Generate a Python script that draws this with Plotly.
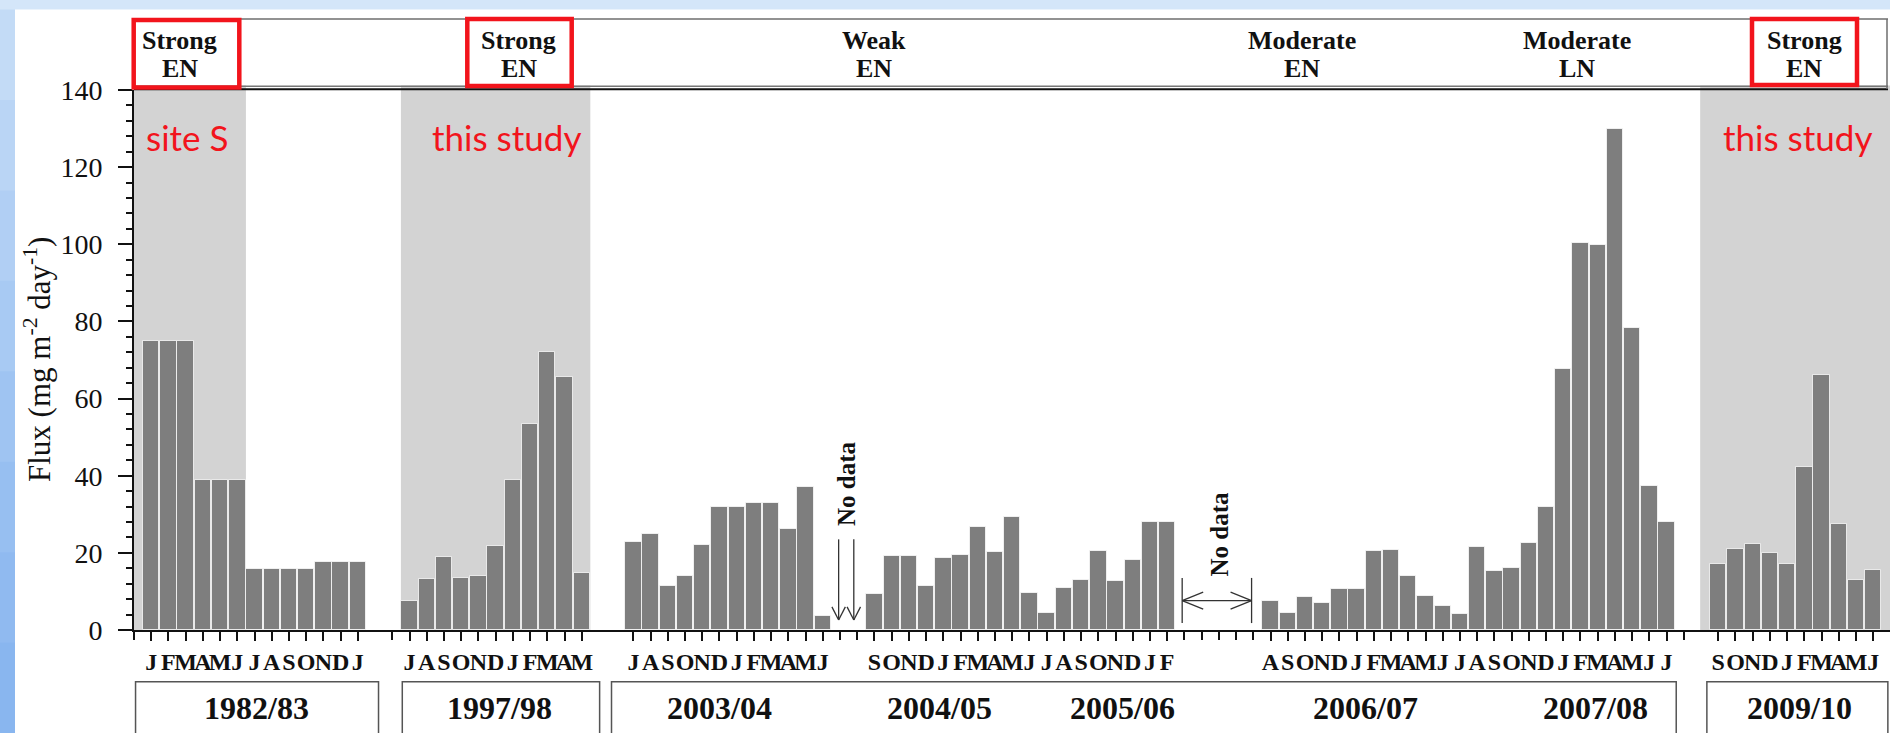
import plotly.graph_objects as go

# ---------------------------------------------------------------- data ----
MONTH_INITIALS = ["J", "F", "M", "A", "M", "J", "J", "A", "S", "O", "N", "D"]

# monthly flux (mg m-2 day-1); None marks a month without data
flux_1982_83_start = (1982, 1)
flux_1982_83 = [75.0, 75.0, 75.0, 38.9, 38.9, 38.9, 15.8, 15.8, 15.8, 15.8,
                17.6, 17.6, 17.6]

flux_1997_98_start = (1997, 7)
flux_1997_98 = [7.4, 13.2, 19.0, 13.6, 13.9, 21.7, 38.9, 53.4, 72.2, 65.7, 14.9]

flux_2003_08_start = (2003, 7)
flux_2003_08 = [22.9, 24.9, 11.4, 14.0, 22.0, 31.9, 32.0, 33.0, 33.0, 26.1,
                37.1, 3.7,
                None, None,
                9.4, 19.1, 19.1, 11.3, 18.6, 19.5, 26.7, 20.3, 29.3, 9.7,
                4.3, 11.0, 13.0, 20.5, 12.8, 18.1, 28.1, 28.1,
                None, None, None, None, None,
                7.4, 4.5, 8.5, 7.0, 10.6, 10.6, 20.5, 20.7, 14.0, 8.9, 6.3,
                4.2, 21.4, 15.3, 16.0, 22.6, 31.9, 67.7, 100.3, 99.7, 130.0,
                78.4, 37.4, 27.9]

flux_2009_10_start = (2009, 9)
flux_2009_10 = [17.2, 21.0, 22.3, 19.9, 17.1, 42.2, 66.0, 27.5, 12.9, 15.6]

year_labels = ["1982/83", "1997/98", "2003/04", "2004/05", "2005/06",
               "2006/07", "2007/08", "2009/10"]
enso_strength = ["Strong", "Strong", "Weak", "Moderate", "Moderate", "Strong"]
enso_phase = ["EN", "EN", "EN", "EN", "LN", "EN"]
study_labels = ["site S", "this study", "this study"]

# -------------------------------------------------------------- layout ----
W, H = 1890, 733
M_L, M_T, M_B = 134, 90, 103
PLOT_W = W - M_L
PLOT_H = H - M_T - M_B
SLOT_PX = 17.22
X_MIN = -1.0
X_MAX = X_MIN + PLOT_W / SLOT_PX
Y_MAX = 140

# first slot of each record on the month axis
segments = [
    (flux_1982_83_start, flux_1982_83, 0),
    (flux_1997_98_start, flux_1997_98, 15),
    (flux_2003_08_start, flux_2003_08, 28),
    (flux_2009_10_start, flux_2009_10, 91),
]
BREAK_TICKS = [-1, 14, 89]

YEAR_LABEL_SLOT = [6.1, 20.2, 33.0, 45.76, 56.4, 70.5, 83.9, 95.7]
YEAR_BOX_SLOTS = [(-0.91, 13.2), (14.58, 26.04), (26.73, 88.56), (90.34, 100.85)]
ENSO_SLOT = [1.65, 21.33, 42.0, 66.8, 82.8, 96.0]
RED_BOXES_PX = [(133.7, 239.3, 20, 87.5), (467.3, 571.7, 19, 86),
                (1752, 1857, 19, 85)]
SHADE_SLOTS = [(-1.0, 5.5), (14.5, 25.5), (89.95, 101.5)]
STUDY_SLOT = [2.05, 20.63, 95.6]

BAR = "#7e7e7e"
SHADE = "#d3d3d3"
RED = "#f2141c"
INK = "#111111"
SERIF = "Liberation Serif"


def px_x(x):
    return (x - M_L) / PLOT_W


def px_y(y):
    return (H - M_B - y) / PLOT_H


def slot_x(s):
    return (s - X_MIN) / (X_MAX - X_MIN)


fig = go.Figure()

label_vals, label_text, bare_ticks = [], [], list(BREAK_TICKS)
for (year, month), values, slot0 in segments:
    xs, ys = [], []
    for k, v in enumerate(values):
        s = slot0 + k
        if v is None:
            bare_ticks.append(s)
        else:
            label_vals.append(s)
            label_text.append("<b>%s</b>" % MONTH_INITIALS[(month - 1 + k) % 12])
            xs.append(s)
            ys.append(v)
    fig.add_trace(go.Bar(
        x=xs, y=ys, width=0.95,
        marker=dict(color=BAR, line=dict(color="rgba(255,255,255,0.75)", width=1)),
        hoverinfo="x+y", showlegend=False,
    ))

# companion axis carrying the unlabelled ticks (gaps and segment starts)
fig.add_trace(go.Scatter(x=[None], y=[None], xaxis="x2", yaxis="y",
                         mode="markers", showlegend=False, hoverinfo="skip"))

shapes = []
annotations = []

# slide background: white panel, blue band on the left
shapes.append(dict(type="rect", xref="paper", yref="paper",
                   x0=px_x(15), x1=px_x(W + 5), y0=px_y(9.5), y1=px_y(H + 5),
                   fillcolor="white", line=dict(width=0), layer="below"))
band_cols = ["#c3dbf6", "#bad5f5", "#b1cff4", "#a8caf3", "#9fc4f2",
             "#97bff1", "#90baf0", "#89b6ef"]
n = len(band_cols)
for i, c in enumerate(band_cols):
    shapes.append(dict(type="rect", xref="paper", yref="paper",
                       x0=px_x(0), x1=px_x(15),
                       y0=px_y(9.5 + (H - 9.5) * (i + 1) / n + 1),
                       y1=px_y(9.5 + (H - 9.5) * i / n),
                       fillcolor=c, line=dict(width=0), layer="below"))

# shaded strong El Nino periods
for a, b in SHADE_SLOTS:
    shapes.append(dict(type="rect", xref="x", yref="paper", x0=a, x1=b,
                       y0=0, y1=px_y(85.5), fillcolor=SHADE,
                       line=dict(width=0), layer="below"))

# ENSO header band
shapes.append(dict(type="line", xref="paper", yref="paper",
                   x0=px_x(134), x1=px_x(1888), y0=px_y(19), y1=px_y(19),
                   line=dict(color="#6e6e6e", width=1.5)))
shapes.append(dict(type="line", xref="paper", yref="paper",
                   x0=px_x(134), x1=px_x(1888), y0=px_y(86.3), y1=px_y(86.3),
                   line=dict(color="#777777", width=1.5)))
shapes.append(dict(type="line", xref="paper", yref="paper",
                   x0=px_x(134), x1=px_x(1888), y0=px_y(89.3), y1=px_y(89.3),
                   line=dict(color=INK, width=2)))
shapes.append(dict(type="line", xref="paper", yref="paper",
                   x0=px_x(1887), x1=px_x(1887), y0=px_y(19), y1=px_y(89),
                   line=dict(color="#6e6e6e", width=1.5)))
for s, strength, phase in zip(ENSO_SLOT, enso_strength, enso_phase):
    annotations.append(dict(x=s, y=px_y(40), xref="x", yref="paper",
                            text="<b>%s</b>" % strength, showarrow=False,
                            font=dict(family=SERIF, size=26, color=INK),
                            xanchor="center", yanchor="middle"))
    annotations.append(dict(x=s, y=px_y(68), xref="x", yref="paper",
                            text="<b>%s</b>" % phase, showarrow=False,
                            font=dict(family=SERIF, size=26, color=INK),
                            xanchor="center", yanchor="middle"))
for x0, x1, y0, y1 in RED_BOXES_PX:
    shapes.append(dict(type="rect", xref="paper", yref="paper",
                       x0=px_x(x0), x1=px_x(x1), y0=px_y(y1), y1=px_y(y0),
                       line=dict(color=RED, width=4.5), fillcolor="rgba(0,0,0,0)"))

# red study labels
for s, t in zip(STUDY_SLOT, study_labels):
    annotations.append(dict(x=s, y=px_y(137), xref="x", yref="paper", text=t,
                            showarrow=False,
                            font=dict(family="Lato", size=35, color=RED),
                            xanchor="center", yanchor="middle"))

# year boxes under the month axis
for a, b in YEAR_BOX_SLOTS:
    shapes.append(dict(type="rect", xref="paper", yref="paper",
                       x0=slot_x(a), x1=slot_x(b), y0=px_y(H + 10), y1=px_y(681.7),
                       line=dict(color="#555555", width=1.5),
                       fillcolor="rgba(0,0,0,0)"))
for s, t in zip(YEAR_LABEL_SLOT, year_labels):
    annotations.append(dict(x=s, y=px_y(708), xref="x", yref="paper",
                            text="<b>%s</b>" % t, showarrow=False,
                            font=dict(family=SERIF, size=32, color=INK),
                            xanchor="center", yanchor="middle"))

# gaps in the record
ARROW = dict(color="#333333", width=1.3)
for xa in (39.92, 40.8):
    shapes.append(dict(type="line", xref="x", yref="y", x0=xa, x1=xa,
                       y0=23.5, y1=2.6, line=ARROW))
    for d in (-0.39, 0.39):
        shapes.append(dict(type="line", xref="x", yref="y", x0=xa + d, x1=xa,
                           y0=6.0, y1=2.6, line=ARROW))
annotations.append(dict(x=40.38, y=38.0, xref="x", yref="y",
                        text="<b>No data</b>", textangle=-90, showarrow=False,
                        font=dict(family=SERIF, size=25, color=INK),
                        xanchor="center", yanchor="middle"))

ha, hb, hy = 59.87, 63.9, 7.6
shapes.append(dict(type="line", xref="x", yref="y", x0=ha, x1=hb,
                   y0=hy, y1=hy, line=ARROW))
for xe in (ha, hb):
    shapes.append(dict(type="line", xref="x", yref="y", x0=xe, x1=xe,
                       y0=1.8, y1=13.5, line=ARROW))
for xe, d in ((ha, 1.22), (hb, -1.22)):
    for dy in (-2.2, 2.2):
        shapes.append(dict(type="line", xref="x", yref="y", x0=xe, x1=xe + d,
                           y0=hy, y1=hy + dy, line=ARROW))
annotations.append(dict(x=62.06, y=25.0, xref="x", yref="y",
                        text="<b>No data</b>", textangle=-90, showarrow=False,
                        font=dict(family=SERIF, size=25, color=INK),
                        xanchor="center", yanchor="middle"))

# y-axis title
annotations.append(dict(x=px_x(37), y=0.5, xref="paper", yref="paper",
                        text="Flux (mg m<sup>-2</sup> day<sup>-1</sup>)",
                        textangle=-90, showarrow=False,
                        font=dict(family=SERIF, size=31, color=INK),
                        xanchor="center", yanchor="middle"))

TICK_STYLE = dict(ticks="outside", ticklen=9, tickwidth=1.5, tickcolor=INK)

fig.update_layout(
    width=W, height=H,
    margin=dict(l=M_L, r=0, t=M_T, b=M_B, pad=0),
    paper_bgcolor="#d4e6f9",
    plot_bgcolor="rgba(0,0,0,0)",
    barmode="overlay",
    bargap=0,
    showlegend=False,
    shapes=shapes,
    annotations=annotations,
    xaxis=dict(
        range=[X_MIN, X_MAX], tickmode="array", tickvals=label_vals,
        ticktext=label_text, tickangle=0, showline=True, linewidth=2,
        linecolor=INK, showgrid=False, zeroline=False,
        tickfont=dict(family=SERIF, size=24, color=INK), **TICK_STYLE,
    ),
    xaxis2=dict(
        range=[X_MIN, X_MAX], overlaying="x", anchor="y", side="bottom",
        tickmode="array", tickvals=bare_ticks, showticklabels=False,
        showline=False, showgrid=False, zeroline=False, **TICK_STYLE,
    ),
    yaxis=dict(
        range=[0, Y_MAX], tick0=0, dtick=20, ticks="outside", ticklen=14,
        tickwidth=2, tickcolor=INK, showline=True, linewidth=2, linecolor=INK,
        showgrid=False, zeroline=False, ticklabelstandoff=10,
        tickfont=dict(family=SERIF, size=28, color=INK),
        minor=dict(dtick=4, ticks="outside", ticklen=6, tickwidth=1.5,
                   tickcolor=INK, showgrid=False),
    ),
)

fig.write_html("out.html")
